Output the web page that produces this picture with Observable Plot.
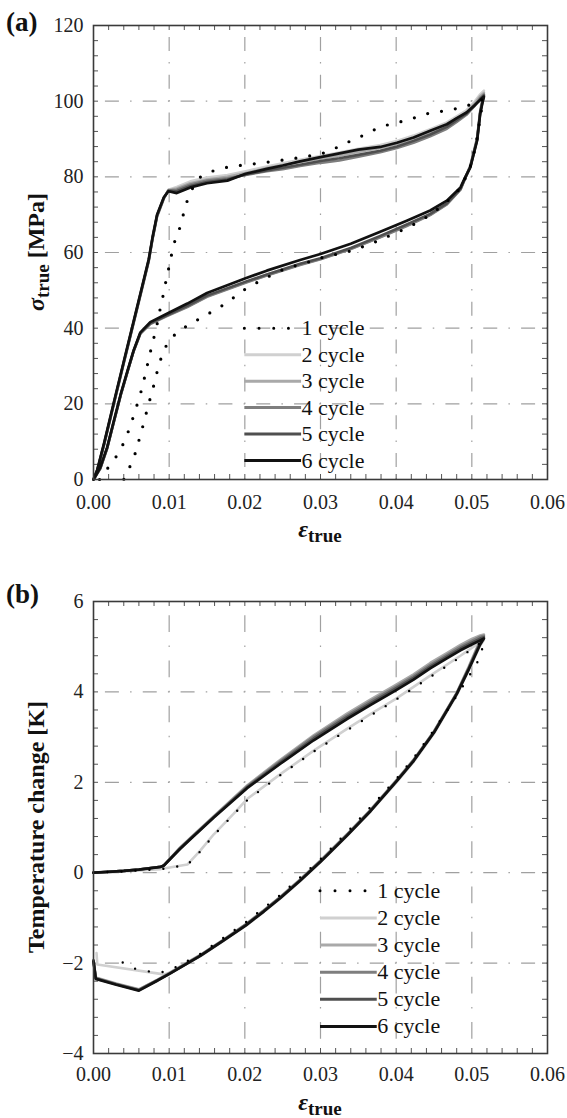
<!DOCTYPE html>
<html>
<head>
<meta charset="utf-8">
<script src="https://cdn.jsdelivr.net/npm/d3@7"></script>
<script src="https://cdn.jsdelivr.net/npm/@observablehq/plot@0.6"></script>
<style>
html,body{margin:0;padding:0;background:#fff;}
#chart{width:567px;height:1118px;}
#chart svg{display:block;}
</style>
</head>
<body>
<div id="chart"></div>
<script>
// ---------------- DATA ----------------
const xTicks = [0, 0.01, 0.02, 0.03, 0.04, 0.05, 0.06];
const xTickLabels = ["0.00", "0.01", "0.02", "0.03", "0.04", "0.05", "0.06"];
const yTicksA = [0, 20, 40, 60, 80, 100, 120];
const yTicksB = [-4, -2, 0, 2, 4, 6];
const cycleNames = ["1 cycle", "2 cycle", "3 cycle", "4 cycle", "5 cycle", "6 cycle"];

// (a) true stress vs true strain, cycles 2-6 share a strain grid (loading then unloading)
const strainA = [0, 0.0005, 0.0014, 0.0027, 0.0040, 0.0053, 0.0064, 0.0073, 0.0078, 0.0084, 0.0093, 0.0099, 0.0110, 0.0128, 0.0150, 0.0177, 0.0201, 0.0229, 0.0250, 0.0273, 0.0300, 0.0325, 0.0350, 0.0379, 0.0401, 0.0423, 0.0445, 0.0467, 0.0480, 0.0493, 0.0503, 0.0511, 0.0516,
  0.0514, 0.0511, 0.0507, 0.0498, 0.0491, 0.0485, 0.0467, 0.0445, 0.0414, 0.0379, 0.0340, 0.0300, 0.0273, 0.0229, 0.0201, 0.0150, 0.0124, 0.0097, 0.0075, 0.0062, 0.0053, 0.0045, 0.0036, 0.0027, 0.0018, 0.0009, 0];
const stressA6 = [0, 2.6, 9.6, 20.5, 31.2, 41.8, 50.8, 58.2, 64.0, 70.0, 74.6, 76.2, 75.7, 77.2, 78.3, 79.0, 80.8, 82.1, 83.0, 84.1, 85.2, 86.2, 87.2, 87.9, 89.0, 90.4, 92.2, 93.9, 95.5, 97.0, 98.8, 100.3, 101.2,
  99.5, 96.6, 89.6, 82.5, 79.8, 77.2, 73.7, 71.1, 68.4, 65.5, 62.3, 59.6, 58.0, 55.2, 53.2, 49.3, 46.5, 43.8, 41.6, 38.9, 34.1, 28.8, 22.6, 15.6, 8.5, 3.2, 0];
const stressA5 = [0, 2.5, 9.4, 20.3, 31.0, 41.6, 50.6, 58.0, 63.8, 69.8, 74.5, 76.3, 76.2, 77.6, 78.6, 79.3, 80.6, 81.7, 82.4, 83.2, 84.2, 84.9, 85.8, 86.9, 88.0, 89.5, 91.2, 93.2, 95.0, 96.7, 98.7, 100.5, 101.5,
  99.8, 96.8, 89.8, 82.6, 79.6, 76.8, 73.0, 70.2, 67.4, 64.4, 61.2, 58.5, 57.0, 54.2, 52.3, 48.6, 45.9, 43.4, 41.3, 38.7, 34.0, 28.6, 22.4, 15.4, 8.3, 3.0, 0];
const stressA4 = [0, 2.4, 9.3, 20.1, 30.8, 41.4, 50.4, 57.8, 63.6, 69.6, 74.3, 76.4, 76.6, 78.0, 79.0, 79.6, 80.5, 81.5, 82.0, 82.9, 83.7, 84.3, 85.3, 86.5, 87.6, 89.0, 90.7, 92.7, 94.5, 96.4, 98.6, 100.8, 101.8,
  100.0, 97.0, 90.0, 82.8, 79.5, 76.6, 72.7, 69.9, 67.0, 64.0, 60.9, 58.2, 56.7, 53.9, 52.0, 48.3, 45.6, 43.2, 41.1, 38.6, 33.9, 28.5, 22.3, 15.3, 8.2, 2.9, 0];
const stressA3 = [0, 2.4, 9.3, 20.2, 30.9, 41.5, 50.5, 57.9, 63.7, 69.7, 74.4, 76.5, 76.9, 78.3, 79.3, 80.0, 81.0, 82.3, 83.1, 83.9, 84.8, 85.6, 86.6, 87.6, 88.7, 90.0, 91.8, 93.6, 95.3, 97.0, 99.2, 101.3, 102.2,
  100.4, 97.2, 90.2, 82.9, 79.6, 76.7, 72.8, 70.0, 67.1, 64.1, 61.0, 58.3, 56.8, 54.0, 52.1, 48.4, 45.7, 43.3, 41.2, 38.6, 33.9, 28.5, 22.3, 15.3, 8.2, 2.9, 0];
const stressA2 = [0, 2.3, 9.1, 19.9, 30.6, 41.2, 50.2, 57.6, 63.4, 69.4, 74.2, 76.6, 77.3, 78.8, 79.8, 80.5, 81.5, 82.7, 83.6, 84.5, 85.5, 86.4, 87.4, 88.4, 89.5, 90.9, 92.6, 94.4, 96.0, 97.6, 99.7, 101.8, 102.8,
  100.8, 97.5, 90.4, 83.0, 79.7, 76.8, 72.9, 70.1, 67.2, 64.2, 61.1, 58.4, 56.9, 54.1, 52.2, 48.5, 45.8, 43.4, 41.3, 38.7, 34.0, 28.6, 22.4, 15.4, 8.3, 3.0, 0];
const strainA1 = [0.0008, 0.00225, 0.00335, 0.00414, 0.00485, 0.00542, 0.00599, 0.00652, 0.00692, 0.00736, 0.00779, 0.00828, 0.00863, 0.00907, 0.00942, 0.00982, 0.01021, 0.0106, 0.0113, 0.0118, 0.0123, 0.0131, 0.0141, 0.0157, 0.0176, 0.0200, 0.0220, 0.0260, 0.0300, 0.0315, 0.0333, 0.0350, 0.0366, 0.0384, 0.0401, 0.0420, 0.0438, 0.0456, 0.0475, 0.0494, 0.0510, 0.0515,
  0.0511, 0.0505, 0.0497, 0.0485, 0.0470, 0.0458, 0.0443, 0.0427, 0.0409, 0.0392, 0.0375, 0.0357, 0.0340, 0.0301, 0.0283, 0.0265, 0.0247, 0.0220, 0.0197, 0.0182, 0.0166, 0.0149, 0.0133, 0.0116, 0.0102, 0.00925, 0.00867, 0.00819, 0.00775, 0.00718, 0.00674, 0.00621, 0.00572, 0.00515, 0.00423, 0.0040];
const stressA1 = [0, 4.0, 7.0, 10.3, 14.0, 17.6, 21.2, 24.9, 28.6, 32.3, 36.1, 39.7, 43.5, 47.3, 51.0, 54.7, 58.4, 62.2, 65.8, 69.5, 73.2, 77.0, 79.9, 81.5, 82.5, 83.2, 83.6, 84.7, 86.0, 87.1, 88.9, 90.3, 92.0, 93.5, 94.3, 95.3, 96.6, 97.2, 97.8, 98.8, 100.0, 100.6,
  95.5, 88.0, 82.0, 77.0, 74.0, 71.9, 69.7, 67.8, 66.0, 64.5, 63.0, 61.6, 60.4, 58.6, 57.4, 56.4, 55.2, 52.5, 49.9, 47.6, 45.4, 43.5, 41.7, 39.7, 37.3, 34.1, 30.4, 26.8, 23.1, 19.3, 15.6, 11.9, 8.2, 4.7, 1.2, 0];

// (b) temperature change vs true strain, cycles 3-6 share a strain grid
const strainB = [0, 0.0020, 0.0040, 0.0060, 0.0089, 0.0093, 0.0100, 0.0114, 0.0128, 0.0159, 0.0203, 0.0247, 0.0291, 0.0335, 0.0367, 0.0399, 0.0423, 0.0445, 0.0467, 0.0485, 0.0500, 0.0511, 0.0516,
  0.0511, 0.0496, 0.0480, 0.0450, 0.0423, 0.0401, 0.0366, 0.0335, 0.0300, 0.0273, 0.0247, 0.0225, 0.0201, 0.0170, 0.0141, 0.0102, 0.0084, 0.0060, 0.0030, 0.0003, 0];
const tempB6 = [0, 0.02, 0.04, 0.07, 0.13, 0.16, 0.28, 0.52, 0.74, 1.22, 1.87, 2.41, 2.93, 3.40, 3.72, 4.03, 4.27, 4.52, 4.74, 4.92, 5.05, 5.14, 5.18,
  5.05, 4.50, 3.95, 3.10, 2.47, 2.03, 1.36, 0.82, 0.24, -0.18, -0.56, -0.86, -1.17, -1.52, -1.84, -2.22, -2.39, -2.61, -2.48, -2.35, -1.96];
const tempB5 = [0, 0.02, 0.04, 0.07, 0.13, 0.16, 0.28, 0.53, 0.75, 1.23, 1.89, 2.44, 2.97, 3.44, 3.76, 4.07, 4.31, 4.56, 4.78, 4.96, 5.09, 5.18, 5.21,
  5.08, 4.52, 3.96, 3.11, 2.48, 2.04, 1.37, 0.83, 0.25, -0.17, -0.55, -0.85, -1.16, -1.52, -1.84, -2.22, -2.39, -2.60, -2.47, -2.34, -1.95];
const tempB4 = [0, 0.02, 0.04, 0.07, 0.13, 0.16, 0.29, 0.54, 0.76, 1.24, 1.91, 2.47, 3.01, 3.48, 3.80, 4.11, 4.35, 4.60, 4.82, 5.00, 5.13, 5.22, 5.24,
  5.11, 4.54, 3.97, 3.12, 2.49, 2.05, 1.38, 0.84, 0.26, -0.16, -0.54, -0.84, -1.15, -1.51, -1.83, -2.21, -2.38, -2.59, -2.46, -2.33, -1.94];
const tempB3 = [0, 0.02, 0.04, 0.07, 0.13, 0.16, 0.29, 0.55, 0.77, 1.25, 1.93, 2.50, 3.04, 3.52, 3.84, 4.15, 4.39, 4.64, 4.86, 5.04, 5.17, 5.25, 5.27,
  5.14, 4.56, 3.98, 3.13, 2.50, 2.06, 1.39, 0.85, 0.27, -0.15, -0.53, -0.83, -1.14, -1.50, -1.82, -2.20, -2.37, -2.58, -2.45, -2.32, -1.93];
const strainB2 = [0, 0.0040, 0.0089, 0.0124, 0.0141, 0.0159, 0.0185, 0.0203, 0.0247, 0.0291, 0.0335, 0.0367, 0.0399, 0.0445, 0.0485, 0.0511, 0.0516,
  0.0511, 0.0496, 0.0480, 0.0450, 0.0423, 0.0401, 0.0366, 0.0335, 0.0300, 0.0273, 0.0247, 0.0225, 0.0201, 0.0170, 0.0141, 0.0102, 0.0093, 0.0005, 0.0004];
const tempB2 = [0, 0.03, 0.08, 0.18, 0.49, 0.85, 1.30, 1.63, 2.18, 2.70, 3.18, 3.52, 3.84, 4.36, 4.80, 5.10, 5.15,
  5.02, 4.48, 3.93, 3.08, 2.45, 2.01, 1.35, 0.81, 0.23, -0.19, -0.57, -0.87, -1.18, -1.53, -1.85, -2.21, -2.25, -2.03, -1.78];
const strainB1 = [0, 0.0040, 0.0089, 0.0124, 0.0141, 0.0159, 0.0203, 0.0247, 0.0291, 0.0335, 0.0399, 0.0445, 0.0485, 0.0511, 0.0516,
  0.0511, 0.0491, 0.0469, 0.0447, 0.0425, 0.0403, 0.0380, 0.0340, 0.0300, 0.0250, 0.0201, 0.0141, 0.0100, 0.0084, 0.0051, 0.0036, 0.0036];
const tempB1 = [0, 0.03, 0.08, 0.17, 0.47, 0.83, 1.60, 2.16, 2.68, 3.15, 3.82, 4.33, 4.77, 5.08, 5.12,
  4.76, 4.20, 3.63, 3.09, 2.58, 2.13, 1.70, 0.98, 0.30, -0.45, -1.10, -1.80, -2.17, -2.22, -2.11, -1.96, -1.80];

// legend rows (in data units of each panel)
const legendRowsA = [40, 33, 26, 19, 12, 5];
const legendRowsB = [-0.4, -1.0, -1.6, -2.2, -2.8, -3.4];

// ---------------- STYLE ----------------
const FONT = "'Liberation Serif','Times New Roman',serif";
const cycleColors = ["#000000", "#d0d0d0", "#a9a9a9", "#7e7e7e", "#4f4f4f", "#111111"];
const W = 567, H = 559;

function dashFor(period) {
  const dot = 1.5, dash = period * 0.37, gap = (period - dot - dash) / 2;
  return `${dot} ${gap} ${dash} ${gap}`;
}
function rows(xs, ys) { return xs.map((x, i) => ({x, y: ys[i]})); }

function panel(cfg) {
  const pw = W - cfg.ml - cfg.mr, ph = H - cfg.mt - cfg.mb;
  const [y0, y1] = cfg.yDomain;
  const halfY = ph / ((y1 - y0) / cfg.yMajor) / 2;
  const halfX = pw / 6 / 2;
  const xMinor = d3.range(0, 0.06 + 1e-9, 0.002);
  const yMinor = d3.range(y0, y1 + 1e-9, cfg.yMinor);
  const marks = [
    Plot.ruleX(xTicks.slice(1, -1), {x: d => d, stroke: "#a0a0a0", strokeWidth: 1.2, strokeDasharray: dashFor(halfY), strokeDashoffset: 0.75}),
    Plot.ruleY(cfg.yTicks.slice(1, -1), {y: d => d, stroke: "#a0a0a0", strokeWidth: 1.2, strokeDasharray: dashFor(halfX), strokeDashoffset: 0.75}),
    Plot.tickX(xMinor, {x: d => d, insetTop: ph - 5, stroke: "#555"}),
    Plot.tickX(xMinor, {x: d => d, insetBottom: ph - 5, stroke: "#555"}),
    Plot.tickY(yMinor, {y: d => d, insetRight: pw - 5, stroke: "#555"}),
    Plot.tickY(yMinor, {y: d => d, insetLeft: pw - 5, stroke: "#555"})
  ];
  for (let c = 1; c < 6; c++) {
    const s = cfg.series[c];
    marks.push(Plot.line(rows(s[0], s[1]), {x: "x", y: "y", stroke: cycleColors[c], strokeWidth: c === 5 ? 2.7 : 2.6, strokeLinejoin: "round"}));
  }
  const s1 = cfg.series[0];
  marks.push(Plot.line(rows(s1[0], s1[1]), {x: "x", y: "y", stroke: "#000", strokeWidth: cfg.dotW, strokeDasharray: "0 14", strokeLinecap: "round"}));
  cfg.legendRows.forEach((r, c) => {
    if (c === 0) {
      marks.push(Plot.ruleY([r], {y: d => d, x1: cfg.legendX1, x2: cfg.legendX2, stroke: "#000", strokeWidth: 3, strokeDasharray: "0 " + cfg.legendDot, strokeLinecap: "round"}));
    } else {
      marks.push(Plot.ruleY([r], {y: d => d, x1: cfg.legendX1, x2: cfg.legendX2, stroke: cycleColors[c], strokeWidth: 3}));
    }
    marks.push(Plot.text([cycleNames[c]], {x: cfg.legendX2, y: r, text: d => d, textAnchor: "start", lineAnchor: "middle", fontSize: 22, fill: "#111"}));
  });
  marks.push(Plot.frame({stroke: "#3a3a3a", strokeWidth: 1.6}));
  marks.push(Plot.axisX({ticks: xTicks, tickFormat: d => xTickLabels[xTicks.indexOf(d)], tickSize: 0, tickPadding: cfg.xPad, label: null, fill: "#222"}));
  marks.push(Plot.axisY({ticks: cfg.yTicks, tickSize: 0, tickPadding: 10, label: null, fill: "#222"}));

  const svg = Plot.plot({
    width: W, height: H,
    marginTop: cfg.mt, marginBottom: cfg.mb, marginLeft: cfg.ml, marginRight: cfg.mr,
    x: {domain: [0, 0.06]},
    y: {domain: cfg.yDomain},
    style: {fontFamily: FONT, fontSize: "20px", background: "#fff", color: "#222", overflow: "visible"},
    marks
  });

  const g = d3.select(svg);
  g.append("text").attr("x", 6).attr("y", cfg.letterY).attr("text-anchor", "start")
    .attr("font-family", FONT).attr("font-weight", "bold").attr("font-size", 27).attr("fill", "#111")
    .text(cfg.letter);
  const xl = g.append("text").attr("x", cfg.ml + pw / 2).attr("y", cfg.xLabelY).attr("text-anchor", "middle")
    .attr("font-family", FONT).attr("font-weight", "bold").attr("font-size", 24).attr("fill", "#111");
  xl.append("tspan").attr("font-style", "italic").text("ε");
  xl.append("tspan").attr("font-size", 19).attr("dy", 5).text("true");
  const yl = g.append("text").attr("transform", `translate(44,${cfg.mt + ph / 2}) rotate(-90)`).attr("text-anchor", "middle")
    .attr("font-family", FONT).attr("font-weight", "bold").attr("font-size", 24).attr("fill", "#111");
  cfg.yLabel(yl);
  return svg;
}

const svgA = panel({
  letter: "(a)", letterY: 31, xLabelY: 537,
  mt: 25, mb: 80, ml: 93, mr: 20, xPad: 15,
  yDomain: [0, 120], yTicks: yTicksA, yMajor: 20, yMinor: 4,
  dotW: 3.2,
  series: [[strainA1, stressA1], [strainA, stressA2], [strainA, stressA3], [strainA, stressA4], [strainA, stressA5], [strainA, stressA6]],
  legendRows: legendRowsA, legendX1: 0.02, legendX2: 0.0275, legendDot: 14.7,
  yLabel: t => {
    t.append("tspan").attr("font-style", "italic").text("σ");
    t.append("tspan").attr("font-size", 19).attr("dy", 5).text("true");
    t.append("tspan").attr("dy", -5).text(" [MPa]");
  }
});
const svgB = panel({
  letter: "(b)", letterY: 44, xLabelY: 551,
  mt: 42, mb: 65, ml: 93, mr: 20, xPad: 13,
  yDomain: [-4, 6], yTicks: yTicksB, yMajor: 2, yMinor: 0.4,
  dotW: 2.4,
  series: [[strainB1, tempB1], [strainB2, tempB2], [strainB, tempB3], [strainB, tempB4], [strainB, tempB5], [strainB, tempB6]],
  legendRows: legendRowsB, legendX1: 0.03, legendX2: 0.0375, legendDot: 15,
  yLabel: t => { t.text("Temperature change [K]"); }
});
document.getElementById("chart").append(svgA, svgB);
</script>
</body>
</html>
